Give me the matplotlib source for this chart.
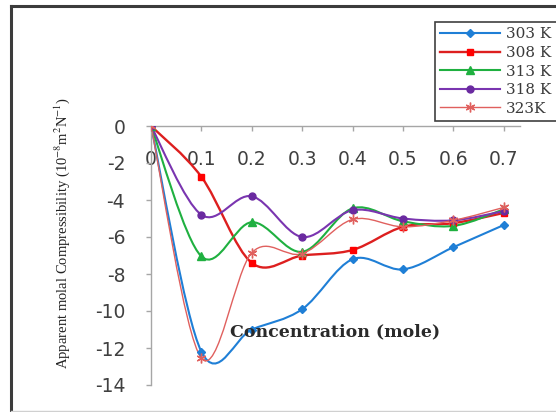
import numpy as np
import matplotlib
matplotlib.use("Agg")
import matplotlib.pyplot as plt
from matplotlib.path import Path
from matplotlib.patches import PathPatch
from matplotlib.lines import Line2D

# Concentration (mole) and apparent molal compressibility at each temperature
concentration = [0.0, 0.1, 0.2, 0.3, 0.4, 0.5, 0.6, 0.7]
k_303 = [0.0, -12.2, -11.0, -9.9, -7.2, -7.75, -6.55, -5.35]
k_308 = [0.0, -2.75, -7.4, -7.0, -6.7, -5.45, -5.25, -4.7]
k_313 = [0.0, -7.05, -5.2, -6.8, -4.45, -5.15, -5.4, -4.5]
k_318 = [0.0, -4.8, -3.8, -6.0, -4.55, -5.0, -5.1, -4.6]
k_323 = [0.0, -12.55, -6.85, -6.9, -5.05, -5.45, -5.1, -4.4]
series_labels = ["303 K", "308 K", "313 K", "318 K", "323K"]
x_ticks = [0, 0.1, 0.2, 0.3, 0.4, 0.5, 0.6, 0.7]
x_tick_labels = ["0", "0.1", "0.2", "0.3", "0.4", "0.5", "0.6", "0.7"]
y_ticks = [0, -2, -4, -6, -8, -10, -12, -14]

plt.rcParams["axes.unicode_minus"] = False
plt.rcParams["mathtext.fontset"] = "stix"

styles = [
    dict(color="#1f7fd6", lw=1.5, marker="D", ms=4.5, mc="#1f7fd6"),
    dict(color="#dd1f1f", lw=1.7, marker="s", ms=5.0, mc="#ff0000"),
    dict(color="#1fb040", lw=1.5, marker="^", ms=5.5, mc="#1fb040"),
    dict(color="#7a35b0", lw=1.5, marker="o", ms=5.0, mc="#6a2aa0"),
    dict(color="#e0605e", lw=1.0, marker=(6, 2, 0), ms=7.0, mc="#e0605e"),
]


def smooth_path(x, y):
    """Catmull-Rom style cubic Bezier path through the given points."""
    pts = np.column_stack([x, y]).astype(float)
    n = len(pts)
    verts = [pts[0]]
    codes = [Path.MOVETO]
    for i in range(n - 1):
        p0 = pts[i - 1] if i > 0 else pts[i]
        p1 = pts[i]
        p2 = pts[i + 1]
        p3 = pts[i + 2] if i + 2 < n else pts[i + 1]
        verts += [p1 + (p2 - p0) / 6.0, p2 - (p3 - p1) / 6.0, p2]
        codes += [Path.CURVE4] * 3
    return Path(verts, codes)


fig = plt.figure(figsize=(5.56, 4.12), dpi=100)
W, H = 556, 412
ax = fig.add_axes([151 / W, 1 - 385 / H, (520 - 151) / W, (385 - 126) / H])

series = [k_303, k_308, k_313, k_318, k_323]
handles = []
for vals, st, lab in zip(series, styles, series_labels):
    patch = PathPatch(smooth_path(concentration, vals), facecolor="none",
                      edgecolor=st["color"], lw=st["lw"], zorder=2)
    ax.add_patch(patch)
    ax.plot(concentration, vals, linestyle="none", marker=st["marker"],
            ms=st["ms"], color=st["mc"], mec=st["mc"], zorder=3)
    handles.append(Line2D([], [], color=st["color"], lw=st["lw"],
                          marker=st["marker"], ms=st["ms"], mfc=st["mc"],
                          mec=st["mc"], label=lab))

ax.set_xlim(0, 0.732)
ax.set_ylim(-14, 0)
ax.set_xticks(x_ticks)
ax.set_xticklabels(x_tick_labels)
ax.set_yticks(y_ticks)
ax.set_yticklabels([str(v) for v in y_ticks])

for side in ("top", "right"):
    ax.spines[side].set_visible(False)
ax.spines["bottom"].set_position(("data", 0))
for side in ("bottom", "left"):
    ax.spines[side].set_color("#a6a6a6")
    ax.spines[side].set_linewidth(1.0)
ax.spines["bottom"].set_zorder(1)
ax.patch.set_visible(False)

ax.tick_params(axis="both", direction="out", length=3.6, width=1.0,
               color="#a6a6a6", labelcolor="#404040", labelsize=13.5)
ax.tick_params(axis="x", pad=14)
ax.tick_params(axis="y", pad=15)

ax.text(0.365, -11.15, "Concentration (mole)", ha="center", va="center",
        fontsize=12.5, fontweight="bold", family="DejaVu Serif", color="#2a2a2a")

fig.text(62 / W, 1 - 233 / H,
         "Apparent molal Compressibility (10$^{-8}$m$^{2}$N$^{-1}$)",
         rotation=90, ha="center", va="center", fontsize=10.5,
         family="Liberation Serif", color="#222222")

leg = fig.legend(handles=handles, loc="upper left",
                 bbox_to_anchor=(435 / W, 1 - 22 / H),
                 prop={"family": "DejaVu Serif", "size": 11},
                 handlelength=3.9, handletextpad=0.4, labelspacing=0.3,
                 borderpad=0.35, borderaxespad=0, fancybox=False,
                 framealpha=1, edgecolor="#404040")
leg.get_frame().set_linewidth(1.2)
for t in leg.get_texts():
    t.set_color("#3a3a3a")

# outer chart border
fig.add_artist(Line2D([10.5 / W, 10.5 / W], [0, 1 - 6 / H], color="#3c3c3c",
                      lw=2.2, transform=fig.transFigure))
fig.add_artist(Line2D([10.5 / W, 1], [1 - 6 / H, 1 - 6 / H], color="#3c3c3c",
                      lw=2.2, transform=fig.transFigure))
fig.add_artist(Line2D([10.5 / W, 1], [1 - 411 / H, 1 - 411 / H],
                      color="#d0d0d0", lw=1.0, transform=fig.transFigure))

fig.savefig("out.png", dpi=100)
